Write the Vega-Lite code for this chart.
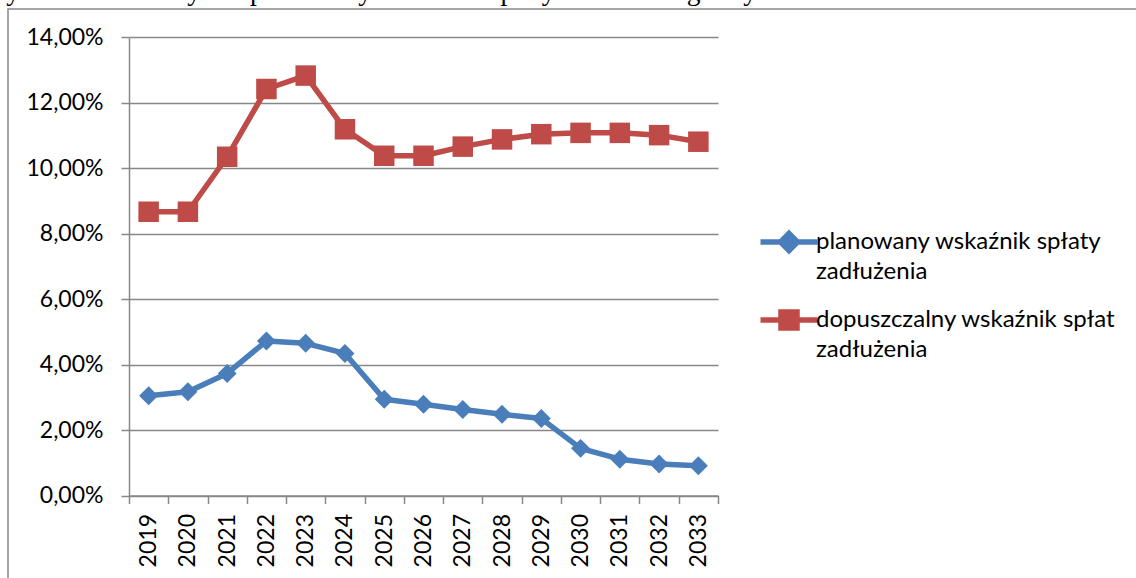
{
  "$schema": "https://vega.github.io/schema/vega-lite/v6.json",
  "width": 1138,
  "height": 580,
  "autosize": {"type": "none"},
  "padding": {"left": 8, "top": 9, "right": 0, "bottom": 0},
  "background": "white",
  "title": {
    "text": "Rys. 28 Planowany i dopuszczalny wskaźnik spłaty zadłużenia gminy w latach 2019-2033",
    "anchor": "start",
    "font": "Liberation Serif",
    "fontSize": 27.5,
    "fontWeight": "normal",
    "color": "black",
    "dx": -8,
    "offset": -18,
    "baseline": "alphabetic"
  },
  "config": {
    "view": {"stroke": "#888888", "strokeWidth": 1.5},
    "font": "Lato"
  },
  "data": {
    "values": [
      {"year": "2019", "series": "planowany wskaźnik spłaty zadłużenia", "value": 0.0305},
      {"year": "2020", "series": "planowany wskaźnik spłaty zadłużenia", "value": 0.0317},
      {"year": "2021", "series": "planowany wskaźnik spłaty zadłużenia", "value": 0.0373},
      {"year": "2022", "series": "planowany wskaźnik spłaty zadłużenia", "value": 0.0472},
      {"year": "2023", "series": "planowany wskaźnik spłaty zadłużenia", "value": 0.0465},
      {"year": "2024", "series": "planowany wskaźnik spłaty zadłużenia", "value": 0.0434},
      {"year": "2025", "series": "planowany wskaźnik spłaty zadłużenia", "value": 0.0294},
      {"year": "2026", "series": "planowany wskaźnik spłaty zadłużenia", "value": 0.0279},
      {"year": "2027", "series": "planowany wskaźnik spłaty zadłużenia", "value": 0.0263},
      {"year": "2028", "series": "planowany wskaźnik spłaty zadłużenia", "value": 0.0248},
      {"year": "2029", "series": "planowany wskaźnik spłaty zadłużenia", "value": 0.0235},
      {"year": "2030", "series": "planowany wskaźnik spłaty zadłużenia", "value": 0.0144},
      {"year": "2031", "series": "planowany wskaźnik spłaty zadłużenia", "value": 0.0111},
      {"year": "2032", "series": "planowany wskaźnik spłaty zadłużenia", "value": 0.0096},
      {"year": "2033", "series": "planowany wskaźnik spłaty zadłużenia", "value": 0.0091},
      {"year": "2019", "series": "dopuszczalny wskaźnik spłat zadłużenia", "value": 0.0867},
      {"year": "2020", "series": "dopuszczalny wskaźnik spłat zadłużenia", "value": 0.0867},
      {"year": "2021", "series": "dopuszczalny wskaźnik spłat zadłużenia", "value": 0.1035},
      {"year": "2022", "series": "dopuszczalny wskaźnik spłat zadłużenia", "value": 0.1242},
      {"year": "2023", "series": "dopuszczalny wskaźnik spłat zadłużenia", "value": 0.1283},
      {"year": "2024", "series": "dopuszczalny wskaźnik spłat zadłużenia", "value": 0.1119},
      {"year": "2025", "series": "dopuszczalny wskaźnik spłat zadłużenia", "value": 0.1038},
      {"year": "2026", "series": "dopuszczalny wskaźnik spłat zadłużenia", "value": 0.1038},
      {"year": "2027", "series": "dopuszczalny wskaźnik spłat zadłużenia", "value": 0.1066},
      {"year": "2028", "series": "dopuszczalny wskaźnik spłat zadłużenia", "value": 0.1088},
      {"year": "2029", "series": "dopuszczalny wskaźnik spłat zadłużenia", "value": 0.1104},
      {"year": "2030", "series": "dopuszczalny wskaźnik spłat zadłużenia", "value": 0.1108},
      {"year": "2031", "series": "dopuszczalny wskaźnik spłat zadłużenia", "value": 0.1108},
      {"year": "2032", "series": "dopuszczalny wskaźnik spłat zadłużenia", "value": 0.1101},
      {"year": "2033", "series": "dopuszczalny wskaźnik spłat zadłużenia", "value": 0.1081}
    ]
  },
  "encoding": {
    "x": {
      "field": "year",
      "type": "ordinal",
      "scale": {"type": "band", "range": [121, 710], "paddingInner": 0, "paddingOuter": 0},
      "axis": {
        "title": null,
        "labelAngle": -90,
        "tickBand": "extent",
        "offset": -93.5,
        "domainColor": "#888888",
        "domainWidth": 1.5,
        "tickColor": "#888888",
        "tickWidth": 1.5,
        "tickSize": 8,
        "labelPadding": 10,
        "labelFont": "Lato",
        "labelFontSize": 23,
        "labelColor": "black",
        "grid": false
      }
    },
    "y": {
      "field": "value",
      "type": "quantitative",
      "scale": {"domain": [0, 0.14], "range": [486.5, 28.3], "nice": false},
      "axis": {
        "title": null,
        "values": [0, 0.02, 0.04, 0.06, 0.08, 0.1, 0.12, 0.14],
        "labelExpr": "replace(format(datum.value, '.2%'), '.', ',')",
        "offset": -121,
        "domainColor": "#888888",
        "domainWidth": 1.5,
        "tickColor": "#888888",
        "tickWidth": 1.5,
        "tickSize": 8,
        "labelPadding": 18,
        "labelFont": "Lato",
        "labelFontSize": 23,
        "labelColor": "black",
        "grid": true,
        "gridColor": "#888888",
        "gridWidth": 1.5
      }
    },
    "color": {
      "field": "series",
      "type": "nominal",
      "scale": {
        "domain": ["planowany wskaźnik spłaty zadłużenia", "dopuszczalny wskaźnik spłat zadłużenia"],
        "range": ["#4A7EBB", "#BE4B48"]
      },
      "legend": {
        "orient": "none",
        "legendX": 768,
        "legendY": 220,
        "title": null,
        "padding": 0,
        "labelFont": "Lato",
        "labelFontSize": 24,
        "labelColor": "black",
        "labelLimit": 600,
        "labelOffset": 14,
        "symbolSize": 400,
        "symbolType": "M-2.85,0L2.85,0M0,-0.85L0.85,0L0,0.85L-0.85,0Z",
        "symbolStrokeWidth": 5.5,
        "rowPadding": 17,
        "labelExpr": "datum.value == 'planowany wskaźnik spłaty zadłużenia' ? ['planowany wskaźnik spłaty', 'zadłużenia'] : ['dopuszczalny wskaźnik spłat', 'zadłużenia']",
        "encode": {
          "symbols": {
            "update": {
              "shape": {"signal": "datum.value == 'planowany wskaźnik spłaty zadłużenia' ? 'M-2.85,0L2.85,0M0,-0.85L0.85,0L0,0.85L-0.85,0Z' : 'M-2.85,0L2.85,0M-0.8,-0.8L0.8,-0.8L0.8,0.8L-0.8,0.8Z'"},
              "fill": {"signal": "scale('color', datum.value)"},
              "stroke": {"signal": "scale('color', datum.value)"},
              "opacity": {"value": 1}
            }
          },
          "labels": {
            "update": {"lineHeight": {"value": 30}}
          }
        }
      }
    }
  },
  "layer": [
    {"mark": {"type": "line", "strokeWidth": 5.5, "strokeJoin": "round"}},
    {
      "transform": [{"filter": "datum.series == 'planowany wskaźnik spłaty zadłużenia'"}],
      "mark": {"type": "point", "filled": true, "opacity": 1, "shape": "diamond", "size": 360}
    },
    {
      "transform": [{"filter": "datum.series == 'dopuszczalny wskaźnik spłat zadłużenia'"}],
      "mark": {"type": "point", "filled": true, "opacity": 1, "shape": "square", "size": 420}
    }
  ]
}
